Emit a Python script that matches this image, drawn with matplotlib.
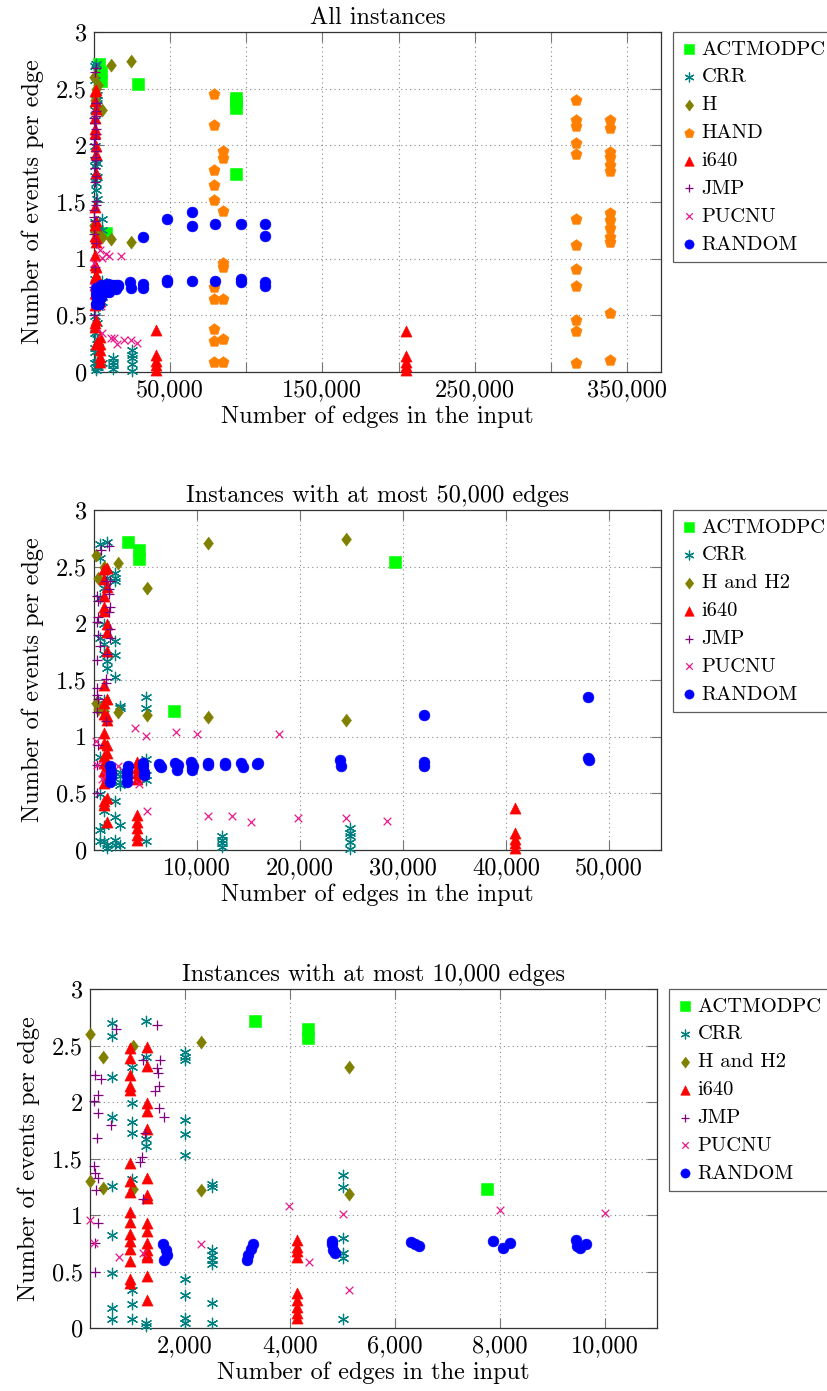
import matplotlib
matplotlib.use('Agg')
import matplotlib.pyplot as plt
from matplotlib.ticker import FuncFormatter

# fuente parecida a Computer Modern (cmr10 viene con matplotlib)
plt.rcParams['font.family'] = ['cmr10', 'DejaVu Serif']
plt.rcParams['axes.formatter.use_mathtext'] = True
plt.rcParams['font.size'] = 17.5

# ---------------- datos (aristas, eventos por arista) ----------------
act_x = [3330, 4340, 4340, 7760, 29200, 93000, 93000, 93000, 93000]
act_y = [2.72, 2.65, 2.57, 1.23, 2.54, 2.42, 2.38, 2.33, 1.75]

crr_x = [616] * 9 + [984] * 8 + [1251] * 6 + [2000] * 10 + [2508] * 8 + [5017] * 6 + [12400] * 4 + [24900] * 5
crr_y = [2.70, 2.58, 2.22, 1.87, 1.26, 0.82, 0.49, 0.18, 0.08,
         2.31, 1.99, 1.82, 1.73, 1.32, 0.34, 0.21, 0.08,
         2.72, 2.40, 1.67, 1.61, 0.04, 0.02,
         2.44, 2.40, 2.37, 1.84, 1.72, 1.53, 0.43, 0.29, 0.09, 0.04,
         1.27, 1.25, 0.69, 0.65, 0.60, 0.57, 0.22, 0.04,
         1.35, 1.25, 0.80, 0.66, 0.62, 0.08,
         0.12, 0.09, 0.06, 0.03,
         0.19, 0.15, 0.12, 0.07, 0.01]

h_x = [190, 432, 1016, 2299, 5118, 11100, 24500, 190, 432, 1016, 2299, 5118, 11100, 24500]
h_y = [2.60, 2.40, 2.50, 2.53, 2.31, 2.71, 2.74, 1.30, 1.24, 1.23, 1.22, 1.19, 1.17, 1.15]

hand_x = [78500] * 10 + [84700] * 8 + [316500] * 12 + [339100] * 13
hand_y = [2.45, 2.18, 1.78, 1.65, 1.52, 0.75, 0.64, 0.38, 0.27, 0.09,
          1.95, 1.89, 1.42, 0.96, 0.93, 0.64, 0.29, 0.09,
          2.40, 2.22, 2.17, 2.02, 1.92, 1.35, 1.12, 0.91, 0.76, 0.46, 0.36, 0.08,
          2.22, 2.15, 1.94, 1.90, 1.83, 1.77, 1.40, 1.34, 1.27, 1.19, 1.15, 0.52, 0.11]

i640_x = [953] * 16 + [1283] * 16 + [4128] * 9 + [40900] * 5 + [204800] * 5
i640_y = [2.48, 2.39, 2.24, 2.14, 2.11, 1.46, 1.30, 1.20, 1.03, 0.94, 0.83, 0.77, 0.70, 0.59, 0.43, 0.40,
          2.49, 2.32, 1.99, 1.92, 1.76, 1.33, 1.18, 1.15, 0.93, 0.86, 0.75, 0.69, 0.65, 0.63, 0.46, 0.25,
          0.78, 0.72, 0.68, 0.63, 0.31, 0.25, 0.19, 0.13, 0.09,
          0.37, 0.15, 0.10, 0.06, 0.02,
          0.36, 0.14, 0.09, 0.05, 0.02]

jmp_x = [686, 1473, 286, 394, 1206, 1524, 1460, 1490, 1510, 1430, 350, 267, 350, 584,
         1510, 1590, 1238, 330, 1175, 1143, 267, 286, 350, 305, 1206, 350, 286, 286]
jmp_y = [2.65, 2.68, 2.24, 2.20, 2.37, 2.37, 2.30, 2.26, 2.14, 2.10, 2.06, 2.01, 1.90, 1.80,
         1.95, 1.87, 1.73, 1.68, 1.51, 1.47, 1.43, 1.37, 1.33, 1.22, 1.14, 0.93, 0.75, 0.50]

pucnu_x = [190, 267, 750, 1206, 2299, 3981, 4369, 5017, 5118, 8000, 10007, 18000,
           11100, 13370, 15210, 19840, 24470, 28480]
pucnu_y = [0.96, 0.75, 0.63, 0.66, 0.74, 1.08, 0.58, 1.01, 0.34, 1.04, 1.02, 1.02,
           0.30, 0.30, 0.25, 0.28, 0.28, 0.26]

random_x = [1588, 1638, 1664, 1600, 3302, 3251, 3194, 3175, 4794, 4794, 4826, 4858,
            6299, 6381, 6463, 7873, 8064, 8191, 9448, 9473, 9639, 9530,
            11100, 11100, 12720, 12720, 14300, 14450, 15800, 15900,
            23900, 24000, 32000, 32000, 32000, 48000, 48000, 48050,
            64300, 64300, 64300, 79600, 79600, 96500, 96500, 96500,
            112500, 112500, 112500, 112500]
random_y = [0.74, 0.69, 0.65, 0.60, 0.74, 0.70, 0.65, 0.60, 0.77, 0.74, 0.69, 0.66,
            0.76, 0.74, 0.73, 0.77, 0.71, 0.75, 0.78, 0.73, 0.74, 0.71,
            0.77, 0.75, 0.77, 0.75, 0.77, 0.73, 0.76, 0.77,
            0.79, 0.74, 1.19, 0.78, 0.74, 1.35, 0.81, 0.79,
            1.41, 1.29, 0.80, 1.31, 0.80, 1.31, 0.82, 0.79,
            1.31, 1.20, 0.79, 0.76]

# estilo de cada serie: (nombre, x, y, color, marcador, tamaño, relleno)
diamond = [(0, 1), (0.75, 0), (0, -1), (-0.75, 0)]
series = [
    ('ACTMODPC', act_x, act_y, '#00ff00', 's', 8.5, True),
    ('CRR', crr_x, crr_y, '#008080', (6, 2, 0), 7.5, False),
    ('H', h_x, h_y, '#808000', diamond, 9.5, True),
    ('HAND', hand_x, hand_y, '#ff8000', 'p', 8.5, True),
    ('i640', i640_x, i640_y, '#ff0000', '^', 8.0, True),
    ('JMP', jmp_x, jmp_y, '#800080', '+', 7.5, False),
    ('PUCNU', pucnu_x, pucnu_y, '#e8198b', 'x', 5.5, False),
    ('RANDOM', random_x, random_y, '#0000ff', 'o', 7.8, True),
]

paneles = [
    ('All instances', 0, 372400, [50000 * k for k in range(1, 8)], False),
    ('Instances with at most 50,000 edges', 0, 55050, [10000 * k for k in range(1, 6)], True),
    ('Instances with at most 10,000 edges', 190, 10990, [2000 * k for k in range(1, 6)], True),
]
posiciones = [
    [94 / 827, 1 - 372 / 1391, 567 / 827, 340 / 1391],
    [94 / 827, 1 - 850 / 1391, 567 / 827, 340 / 1391],
    [90 / 827, 1 - 1328 / 1391, 567 / 827, 339 / 1391],
]

fig = plt.figure(figsize=(8.27, 13.91), dpi=100)

for (titulo, xmin, xmax, xticks, con_h2), pos in zip(paneles, posiciones):
    ax = fig.add_axes(pos)
    handles = []
    for nombre, xs, ys, color, marker, size, relleno in series:
        if con_h2 and nombre == 'HAND':
            continue
        pts = [(a, b) for a, b in zip(xs, ys) if xmin <= a <= xmax]
        px = [p[0] for p in pts]
        py = [p[1] for p in pts]
        etiqueta = 'H and H2' if (con_h2 and nombre == 'H') else nombre
        if relleno:
            sc = ax.scatter(px, py, s=size ** 2, marker=marker, c=color,
                            edgecolors=color, linewidths=0.4, clip_on=False,
                            zorder=3, label=etiqueta)
        else:
            sc = ax.scatter(px, py, s=size ** 2, marker=marker, c=color,
                            linewidths=0.9, clip_on=False, zorder=3, label=etiqueta)
        handles.append(sc)

    ax.set_xlim(xmin, xmax)
    ax.set_ylim(0, 3)
    ax.set_xticks(xticks)
    ax.set_yticks([0, 0.5, 1, 1.5, 2, 2.5, 3])
    if titulo == 'All instances':
        ax.xaxis.set_major_formatter(FuncFormatter(
            lambda v, p: f'{int(v):,}' if int(v) % 100000 == 50000 else ''))
    else:
        ax.xaxis.set_major_formatter(FuncFormatter(lambda v, p: f'{int(v):,}'))
    ax.yaxis.set_major_formatter(FuncFormatter(lambda v, p: f'{v:g}'))

    ax.grid(True, linestyle=(0, (1, 3)), color='#888888', linewidth=0.8)
    ax.set_axisbelow(True)
    ax.tick_params(direction='in', top=True, right=True, length=7,
                   width=0.8, color='#777777', pad=5)
    for sp in ax.spines.values():
        sp.set_linewidth(0.9)
        sp.set_color('#333333')

    ax.set_title(titulo, pad=6, fontsize=17.5)
    ax.set_xlabel('Number of edges in the input', labelpad=3)
    ax.set_ylabel('Number of events per edge', labelpad=9)

    leg = ax.legend(handles=handles, loc='upper left', bbox_to_anchor=(1.021, 1.0),
                    borderaxespad=0, fontsize=14.8, frameon=True, fancybox=False,
                    edgecolor='#333333', handlelength=0.8, handletextpad=0.2,
                    borderpad=0.4, labelspacing=0.46, markerscale=0.85, scatterpoints=1)
    leg.get_frame().set_linewidth(0.9)

fig.savefig('out.png', dpi=100)
